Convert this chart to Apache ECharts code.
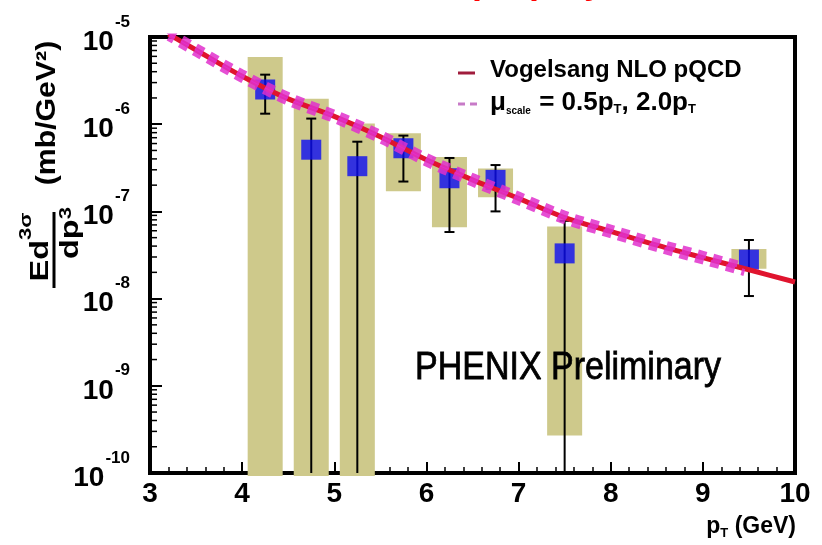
<!DOCTYPE html>
<html>
<head>
<meta charset="utf-8">
<script src="https://cdn.jsdelivr.net/npm/echarts@6/dist/echarts.min.js"></script>
<style>
  html, body { margin: 0; padding: 0; background: #ffffff; }
  #chart { width: 822px; height: 545px; }
</style>
</head>
<body>
<div id="chart"></div>
<script>
// ---- Measured invariant cross section, p_T bin centres in GeV ----
const ptBins    = [4.25, 4.75, 5.25, 5.75, 6.25, 6.75, 7.5, 9.5];
const yieldVals = [2.5e-6, 5.1e-7, 3.3e-7, 5.3e-7, 2.4e-7, 2.3e-7, 3.3e-8, 2.8e-8];
// statistical error range (0 = bar reaches zero)
const statLow   = [1.32e-6, 0, 0, 2.2e-7, 5.8e-8, 1.0e-7, 0, 1.07e-8];
const statHigh  = [3.7e-6, 1.16e-6, 6.3e-7, 7.4e-7, 4.1e-7, 3.4e-7, 7.8e-8, 4.7e-8];
// systematic error range (0 = box reaches zero)
const sysLow    = [0, 0, 0, 1.7e-7, 6.6e-8, 1.45e-7, 2.7e-10, 2.2e-8];
const sysHigh   = [5.9e-6, 1.96e-6, 1.02e-6, 7.9e-7, 4.2e-7, 3.1e-7, 6.7e-8, 3.7e-8];

// ---- NLO pQCD prediction (Vogelsang) ----
const theoryPt   = [3.2, 3.5, 4, 4.5, 5, 5.5, 6, 6.5, 7, 7.5, 8, 8.5, 9, 9.5, 10];
const nloCentral = [1.08e-5, 7.1e-6, 3.55e-6, 1.95e-6, 1.23e-6, 7.2e-7, 3.9e-7, 2.3e-7,
                    1.41e-7, 8.5e-8, 5.9e-8, 4.1e-8, 2.95e-8, 2.14e-8, 1.55e-8];
// scale variations mu = 0.5 pT and mu = 2.0 pT
const scalePt    = [3.2, 3.5, 4, 4.5, 5, 5.5, 6, 6.5, 7, 7.5, 8, 8.5, 9, 9.45];
const nloHalfMu  = [1.18e-5, 7.75e-6, 3.88e-6, 2.13e-6, 1.34e-6, 7.85e-7, 4.25e-7, 2.51e-7,
                    1.54e-7, 9.3e-8, 6.45e-8, 4.48e-8, 3.22e-8, 2.38e-8];
const nloTwiceMu = [9.9e-6, 6.5e-6, 3.26e-6, 1.79e-6, 1.13e-6, 6.6e-7, 3.58e-7, 2.11e-7,
                    1.29e-7, 7.8e-8, 5.4e-8, 3.76e-8, 2.7e-8, 1.99e-8];

// ---- axis ranges ----
const xRange = [3, 10];
const yDecades = [-10, -9, -8, -7, -6, -5];

const FONT = '"Liberation Sans", Arial, Helvetica, sans-serif';
const BAND_HALF = 0.19;
const BAND_COLOR = '#cec98b';

const zip2 = (xs, ys) => xs.map((x, i) => [x, ys[i]]);

// log-spaced minor tick positions 2..9 x 10^n
const minorTickVals = [];
for (let d = yDecades[0]; d < yDecades[yDecades.length - 1]; d++) {
  for (let k = 2; k <= 9; k++) minorTickVals.push([xRange[0], k * Math.pow(10, d)]);
}

const chart = echarts.init(document.getElementById('chart'), null, { renderer: 'canvas' });

function gridBottom(params) { return params.coordSys.y + params.coordSys.height; }

function renderBand(params, api) {
  const x = api.value(0), lo = api.value(1), hi = api.value(2);
  const tl = api.coord([x - BAND_HALF, hi]);
  const tr = api.coord([x + BAND_HALF, hi]);
  const by = lo > 0 ? api.coord([x, lo])[1] : gridBottom(params) + 3;
  return {
    type: 'rect',
    shape: { x: tl[0], y: tl[1], width: tr[0] - tl[0], height: by - tl[1] },
    style: { fill: BAND_COLOR }
  };
}

function renderErr(params, api) {
  const x = api.value(0), lo = api.value(1), hi = api.value(2);
  const top = api.coord([x, hi]);
  const by = lo > 0 ? api.coord([x, lo])[1] : gridBottom(params);
  const st = { stroke: '#000', lineWidth: 2 };
  const kids = [
    { type: 'line', shape: { x1: top[0], y1: top[1], x2: top[0], y2: by }, style: st },
    { type: 'line', shape: { x1: top[0] - 5, y1: top[1], x2: top[0] + 5, y2: top[1] }, style: st }
  ];
  if (lo > 0) kids.push({ type: 'line', shape: { x1: top[0] - 5, y1: by, x2: top[0] + 5, y2: by }, style: st });
  return { type: 'group', children: kids };
}

function renderMinor(params, api) {
  const p = api.coord([api.value(0), api.value(1)]);
  const x0 = params.coordSys.x;
  return { type: 'line', shape: { x1: x0, y1: p[1], x2: x0 + 7, y2: p[1] }, style: { stroke: '#000', lineWidth: 1.5 } };
}

const option = {
  animation: false,
  backgroundColor: '#ffffff',
  grid: { left: 150, right: 27, top: 37, bottom: 72, show: true, borderColor: '#000', borderWidth: 4, backgroundColor: 'transparent' },
  xAxis: {
    type: 'value', min: xRange[0], max: xRange[1], interval: 1,
    axisLine: { show: false },
    axisTick: { show: true, inside: true, length: 11, lineStyle: { color: '#000', width: 2 } },
    minorTick: { show: true, splitNumber: 5, length: 6, lineStyle: { color: '#000', width: 1.5 } },
    splitLine: { show: false },
    axisLabel: { margin: 7, color: '#000', fontFamily: FONT, fontWeight: 'bold', fontSize: 28 }
  },
  yAxis: {
    type: 'log', logBase: 10, min: 1e-10, max: 1e-5,
    axisLine: { show: false },
    axisTick: { show: true, inside: true, length: 12, lineStyle: { color: '#000', width: 2 } },
    splitLine: { show: false },
    axisLabel: {
      margin: 20, color: '#000',
      formatter: v => '{b|10}{e|' + Math.round(Math.log10(v)) + '}',
      rich: {
        b: { fontFamily: FONT, fontWeight: 'bold', fontSize: 28, padding: [10, 0, 0, 0] },
        e: { fontFamily: FONT, fontWeight: 'bold', fontSize: 17, padding: [0, 0, 30, 1] }
      }
    }
  },
  series: [
    { type: 'custom', name: 'sys', z: 1, clip: false, renderItem: renderBand,
      encode: { x: 0, y: 2 }, data: ptBins.map((x, i) => [x, sysLow[i], sysHigh[i]]) },
    { type: 'custom', name: 'minor', z: 3, clip: false, renderItem: renderMinor,
      encode: { x: 0, y: 1 }, data: minorTickVals },
    { type: 'custom', name: 'stat', z: 2, clip: false, renderItem: renderErr,
      encode: { x: 0, y: 2 }, data: ptBins.map((x, i) => [x, statLow[i], statHigh[i]]) },
    { type: 'scatter', name: 'data', z: 3, symbol: 'rect', symbolSize: 20,
      itemStyle: { color: '#0c0cf2' },
      data: zip2(ptBins, yieldVals) },
    { type: 'line', name: 'Vogelsang NLO pQCD', z: 4, showSymbol: false, smooth: 0.3, clip: true,
      lineStyle: { color: '#e0142e', width: 5 }, data: zip2(theoryPt, nloCentral) },
    { type: 'line', name: 'mu 0.5pT', z: 5, showSymbol: false, smooth: 0.3, clip: true,
      lineStyle: { color: '#e030cc', width: 7, type: [9, 7], opacity: 0.85 }, data: zip2(scalePt, nloHalfMu) },
    { type: 'line', name: 'mu 2.0pT', z: 5, showSymbol: false, smooth: 0.3, clip: true,
      lineStyle: { color: '#e030cc', width: 7, type: [9, 7], dashOffset: 3, opacity: 0.85 }, data: zip2(scalePt, nloTwiceMu) }
  ],
  graphic: [
    // slide heading, mostly above the page edge
    { type: 'text', x: 472, y: -17, style: { text: 'p', fill: '#ff0000', font: 'bold 36px ' + FONT, textVerticalAlign: 'middle' } },
    { type: 'text', x: 529, y: -17, style: { text: 'p', fill: '#ff0000', font: 'bold 36px ' + FONT, textVerticalAlign: 'middle' } },
    { type: 'text', x: 584, y: -17, style: { text: 'y', fill: '#ff0000', font: 'bold 36px ' + FONT, textVerticalAlign: 'middle' } },

    // y-axis title: E d^3sigma / dp^3 (mb/GeV^2)
    { type: 'text', x: 48, y: 113, rotation: Math.PI / 2, scaleX: 1.12,
      style: { text: '(mb/GeV²)', fill: '#000', font: 'bold 27px ' + FONT, textAlign: 'center', textVerticalAlign: 'middle' } },
    { type: 'text', x: 41, y: 247, rotation: Math.PI / 2, scaleX: 1.3,
      style: { text: '{m|Ed}{s|3σ}', textAlign: 'center', textVerticalAlign: 'middle',
        rich: { m: { fontFamily: FONT, fontWeight: 'bold', fontSize: 25, color: '#000' },
                s: { fontFamily: FONT, fontWeight: 'bold', fontSize: 17, color: '#000', padding: [0, 0, 30, 0] } } } },
    { type: 'line', shape: { x1: 54, y1: 212, x2: 54, y2: 288 }, style: { stroke: '#000', lineWidth: 3 } },
    { type: 'text', x: 71, y: 233, rotation: Math.PI / 2, scaleX: 1.3,
      style: { text: '{m|dp}{s|3}', textAlign: 'center', textVerticalAlign: 'middle',
        rich: { m: { fontFamily: FONT, fontWeight: 'bold', fontSize: 25, color: '#000' },
                s: { fontFamily: FONT, fontWeight: 'bold', fontSize: 17, color: '#000', padding: [0, 0, 10, 0] } } } },

    // x-axis title
    { type: 'text', x: 796, y: 527,
      style: { text: '{t|p}{s|T}{t| (GeV)}', textAlign: 'right', textVerticalAlign: 'middle',
        rich: { t: { fontFamily: FONT, fontWeight: 'bold', fontSize: 23, color: '#000' },
                s: { fontFamily: FONT, fontWeight: 'bold', fontSize: 13, color: '#000', padding: [12, 0, 0, 0] } } } },

    // legend
    { type: 'line', shape: { x1: 458, y1: 73, x2: 475, y2: 73 }, style: { stroke: '#a01c3c', lineWidth: 3 } },
    { type: 'text', x: 490, y: 70,
      style: { text: 'Vogelsang NLO pQCD', fill: '#000', font: 'bold 24px ' + FONT, textVerticalAlign: 'middle' } },
    { type: 'line', shape: { x1: 458, y1: 104, x2: 477, y2: 104 }, style: { stroke: '#c77ac7', lineWidth: 3, lineDash: [7, 5] } },
    { type: 'text', x: 490, y: 103,
      style: { text: '{t|μ}{sc|scale}{t| = 0.5p}{st|T}{t|, 2.0p}{st|T}', textVerticalAlign: 'middle',
        rich: { t: { fontFamily: FONT, fontWeight: 'bold', fontSize: 26, color: '#000' },
                sc: { fontFamily: FONT, fontWeight: 'bold', fontSize: 10, color: '#000', padding: [16, 1, 0, 0] },
                st: { fontFamily: FONT, fontWeight: 'bold', fontSize: 13, color: '#000', padding: [12, 0, 0, 0] } } } },

    // experiment tag, between the boxes and the error bars
    { type: 'text', x: 415, y: 368, scaleY: 1.12, z: 1.5,
      style: { text: 'PHENIX Preliminary', fill: '#000', stroke: '#000', lineWidth: 0.7,
               font: '34px ' + FONT, textVerticalAlign: 'middle' } }
  ]
};

chart.setOption(option);
</script>
</body>
</html>
